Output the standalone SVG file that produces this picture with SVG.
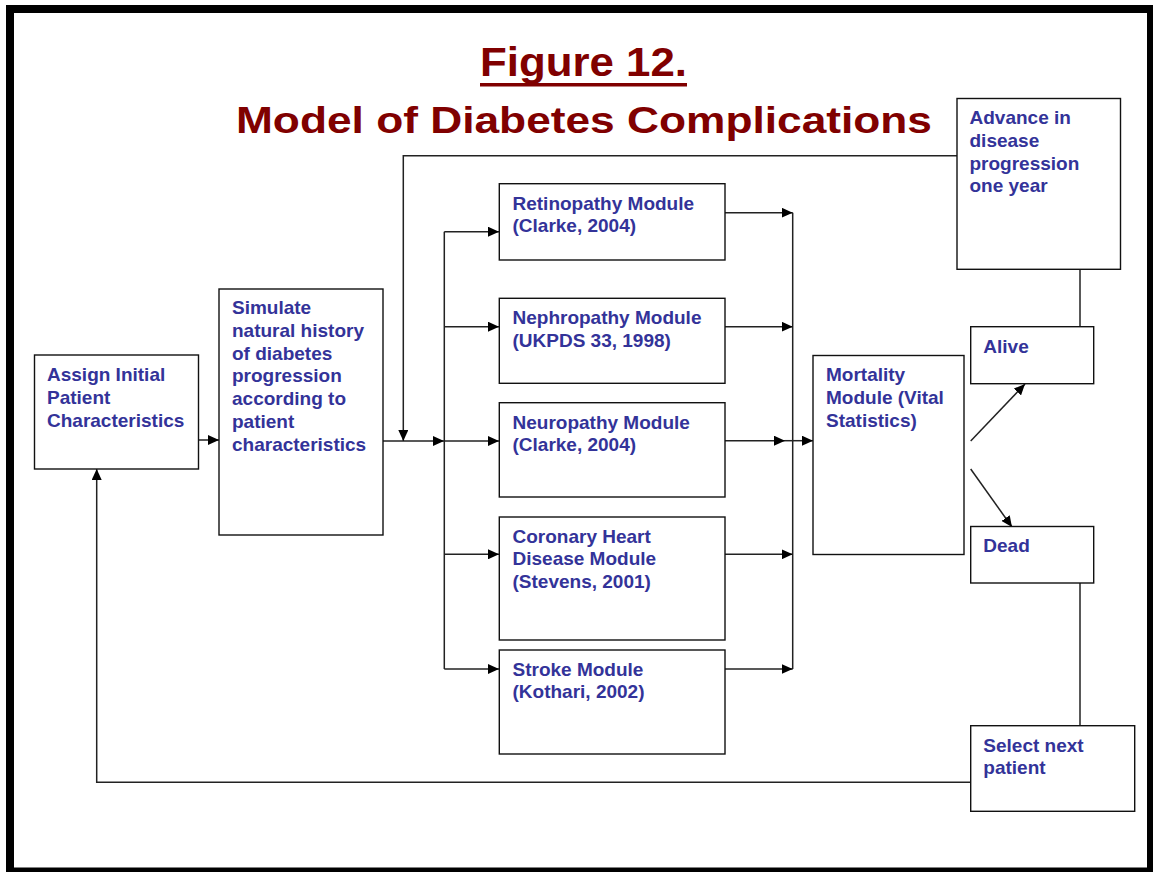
<svg xmlns="http://www.w3.org/2000/svg" width="1153" height="872" viewBox="0 0 1153 872">
<style>
.box{fill:#fff;stroke:#111;stroke-width:1.4}
.t{font-family:"Liberation Sans",Arial,sans-serif;font-weight:bold;font-size:19px;fill:#333399}
.title{font-family:"Liberation Sans",Arial,sans-serif;font-weight:bold;fill:#800000}
.ln{fill:none;stroke:#222;stroke-width:1.5}
.la{fill:none;stroke:#222;stroke-width:1.5;marker-end:url(#ah)}
</style>
<defs>
<marker id="ah" markerUnits="userSpaceOnUse" markerWidth="12" markerHeight="10" refX="11" refY="5" orient="auto">
<path d="M0,0 L11,5 L0,10 Z" fill="#000"/>
</marker>
</defs>
<rect x="0" y="0" width="1153" height="872" fill="#fff"/>
<rect x="10" y="9" width="1141" height="862.5" fill="none" stroke="#000" stroke-width="8"/>
<g id="title">
<text class="title" x="480" y="76" font-size="40" textLength="207" lengthAdjust="spacingAndGlyphs">Figure 12.</text>
<rect x="480" y="83" width="207" height="3.5" fill="#800000"/>
<text class="title" x="236" y="132.5" font-size="36.5" textLength="696" lengthAdjust="spacingAndGlyphs">Model of Diabetes Complications</text>
</g>
<g id="connectors">
<line class="la" x1="199" y1="440" x2="219" y2="440"/>
<line class="la" x1="383" y1="441" x2="444" y2="441"/>
<polyline class="la" points="957,155.7 403.3,155.7 403.3,441"/>
<line class="ln" x1="444.3" y1="231.7" x2="444.3" y2="669"/>
<line class="la" x1="444.3" y1="231.7" x2="499" y2="231.7"/>
<line class="la" x1="444.3" y1="326.7" x2="499" y2="326.7"/>
<line class="la" x1="444.3" y1="441" x2="499" y2="441"/>
<line class="la" x1="444.3" y1="554.3" x2="499" y2="554.3"/>
<line class="la" x1="444.3" y1="669" x2="499" y2="669"/>
<line class="ln" x1="792.7" y1="212.7" x2="792.7" y2="669"/>
<line class="la" x1="725" y1="212.7" x2="792.7" y2="212.7"/>
<line class="la" x1="725" y1="326.7" x2="792.7" y2="326.7"/>
<line class="la" x1="725" y1="440.7" x2="785" y2="440.7"/>
<line class="la" x1="785" y1="440.7" x2="813" y2="440.7"/>
<line class="la" x1="725" y1="554.3" x2="792.7" y2="554.3"/>
<line class="la" x1="725" y1="669" x2="792.7" y2="669"/>
<line class="la" x1="970.7" y1="441" x2="1025" y2="384"/>
<line class="la" x1="970.7" y1="469" x2="1012" y2="527"/>
<line class="ln" x1="1080" y1="269.3" x2="1080" y2="326.7"/>
<line class="ln" x1="1080" y1="583" x2="1080" y2="725.7"/>
<polyline class="la" points="970.7,782.3 96.7,782.3 96.7,469"/>
</g>
<g id="assign">
<rect class="box" x="34.5" y="355" width="164" height="114"/>
<text class="t" x="47" y="381">Assign Initial<tspan x="47" dy="22.8">Patient</tspan><tspan x="47" dy="22.8">Characteristics</tspan></text>
</g>
<g id="simulate">
<rect class="box" x="219" y="289" width="164" height="246"/>
<text class="t" x="232" y="314">Simulate<tspan x="232" dy="22.8">natural history</tspan><tspan x="232" dy="22.8">of diabetes</tspan><tspan x="232" dy="22.8">progression</tspan><tspan x="232" dy="22.8">according to</tspan><tspan x="232" dy="22.8">patient</tspan><tspan x="232" dy="22.8">characteristics</tspan></text>
</g>
<g id="retinopathy">
<rect class="box" x="499.3" y="183.7" width="225.7" height="76.3"/>
<text class="t" x="512.5" y="209.5">Retinopathy Module<tspan x="512.5" dy="22.8">(Clarke, 2004)</tspan></text>
</g>
<g id="nephropathy">
<rect class="box" x="499.3" y="298.3" width="225.7" height="85"/>
<text class="t" x="512.5" y="324.3">Nephropathy Module<tspan x="512.5" dy="22.8">(UKPDS 33, 1998)</tspan></text>
</g>
<g id="neuropathy">
<rect class="box" x="499.3" y="402.7" width="225.7" height="94.3"/>
<text class="t" x="512.5" y="428.5">Neuropathy Module<tspan x="512.5" dy="22.8">(Clarke, 2004)</tspan></text>
</g>
<g id="chd">
<rect class="box" x="499.3" y="517" width="225.7" height="123"/>
<text class="t" x="512.5" y="542.5">Coronary Heart<tspan x="512.5" dy="22.8">Disease Module</tspan><tspan x="512.5" dy="22.8">(Stevens, 2001)</tspan></text>
</g>
<g id="stroke">
<rect class="box" x="499.3" y="650" width="225.7" height="104"/>
<text class="t" x="512.5" y="675.5">Stroke Module<tspan x="512.5" dy="22.8">(Kothari, 2002)</tspan></text>
</g>
<g id="mortality">
<rect class="box" x="813" y="355.5" width="151" height="199"/>
<text class="t" x="826" y="381">Mortality<tspan x="826" dy="22.8">Module (Vital</tspan><tspan x="826" dy="22.8">Statistics)</tspan></text>
</g>
<g id="advance">
<rect class="box" x="957" y="98.5" width="163.5" height="170.8"/>
<text class="t" x="969.5" y="124">Advance in<tspan x="969.5" dy="22.8">disease</tspan><tspan x="969.5" dy="22.8">progression</tspan><tspan x="969.5" dy="22.8">one year</tspan></text>
</g>
<g id="alive">
<rect class="box" x="970.7" y="326.7" width="123" height="57"/>
<text class="t" x="983.3" y="352.5">Alive</text>
</g>
<g id="dead">
<rect class="box" x="970.7" y="526.5" width="123" height="56.5"/>
<text class="t" x="983.3" y="552">Dead</text>
</g>
<g id="select">
<rect class="box" x="970.7" y="725.7" width="164" height="85.6"/>
<text class="t" x="983.3" y="751.5">Select next<tspan x="983.3" dy="22.8">patient</tspan></text>
</g>
</svg>
